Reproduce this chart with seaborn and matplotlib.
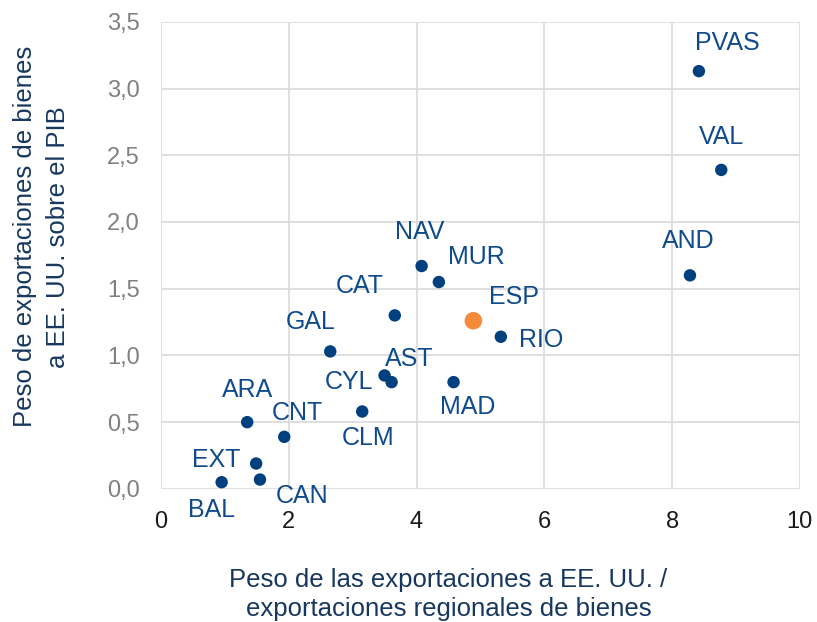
import matplotlib
matplotlib.use("Agg")
import matplotlib.pyplot as plt
import matplotlib.ticker as mticker
import seaborn as sns
import pandas as pd

# data
regions = ["PVAS", "VAL", "AND", "NAV", "MUR", "CAT", "ESP", "RIO", "GAL",
           "CYL", "AST", "MAD", "CLM", "ARA", "CNT", "EXT", "CAN", "BAL"]
x_share = [8.42, 8.77, 8.28, 4.08, 4.35, 3.66, 4.89, 5.32, 2.65,
           3.50, 3.61, 4.58, 3.15, 1.35, 1.93, 1.49, 1.55, 0.95]
y_gdp = [3.13, 2.39, 1.60, 1.67, 1.55, 1.30, 1.26, 1.14, 1.03,
         0.85, 0.80, 0.80, 0.58, 0.50, 0.39, 0.19, 0.07, 0.05]

df = pd.DataFrame({"region": regions, "x": x_share, "y": y_gdp})
df["grupo"] = ["ESP" if r == "ESP" else "CCAA" for r in regions]

# label offsets in pixels (dx, dy), dy up
offsets = {
    "PVAS": (28, 28), "VAL": (0, 33), "AND": (-2, 34), "NAV": (-2, 34),
    "MUR": (38, 25), "CAT": (-35, 29), "ESP": (41, 24), "RIO": (40, -3),
    "GAL": (-20, 29), "CYL": (-36, -7), "AST": (18, 23), "MAD": (14, -25),
    "CLM": (6, -27), "ARA": (0, 32), "CNT": (13, 24), "EXT": (-40, 4),
    "CAN": (42, -16), "BAL": (-10, -28),
}

sns.set_theme(style="whitegrid")
plt.rcParams["font.family"] = ["Liberation Sans", "DejaVu Sans"]

navy = "#00407f"
label_col = "#0f4a8a"
orange = "#f58a3a"

fig, ax = plt.subplots(figsize=(8.17, 6.22), dpi=100)
fig.subplots_adjust(left=0.197, right=0.979, top=0.965, bottom=0.214)

sns.scatterplot(data=df, x="x", y="y", hue="grupo", size="grupo",
                palette={"CCAA": navy, "ESP": orange},
                sizes={"CCAA": 80, "ESP": 160},
                edgecolor="none", legend=False, ax=ax, zorder=3)

for r, xv, yv in zip(regions, x_share, y_gdp):
    dx, dy = offsets[r]
    ax.annotate(r, (xv, yv), xytext=(dx, dy), textcoords="offset pixels",
                ha="center", va="center", fontsize=18, color=label_col)

ax.set_xlim(0, 10)
ax.set_ylim(0, 3.5)
ax.xaxis.set_major_locator(mticker.MultipleLocator(2))
ax.yaxis.set_major_locator(mticker.MultipleLocator(0.5))
ax.yaxis.set_major_formatter(mticker.FuncFormatter(lambda v, p: f"{v:.1f}".replace(".", ",")))
ax.grid(color="#d9d9d9", linewidth=1.2)
for s in ax.spines.values():
    s.set_visible(False)
ax.tick_params(axis="y", labelsize=17, labelcolor="#808080", pad=9)
ax.tick_params(axis="x", labelsize=17, labelcolor="#1a1a1a", pad=10)

ax.set_xlabel("Peso de las exportaciones a EE. UU. /\nexportaciones regionales de bienes",
              fontsize=18.5, color="#17375e", labelpad=25, linespacing=1.25)
ax.set_ylabel("Peso de exportaciones de bienes\na EE. UU. sobre el PIB",
              fontsize=18.5, color="#17375e", labelpad=27, linespacing=1.45)
ax.xaxis.label.set_x(0.45)
ax.yaxis.label.set_y(0.54)

fig.savefig("out.png", dpi=100)
